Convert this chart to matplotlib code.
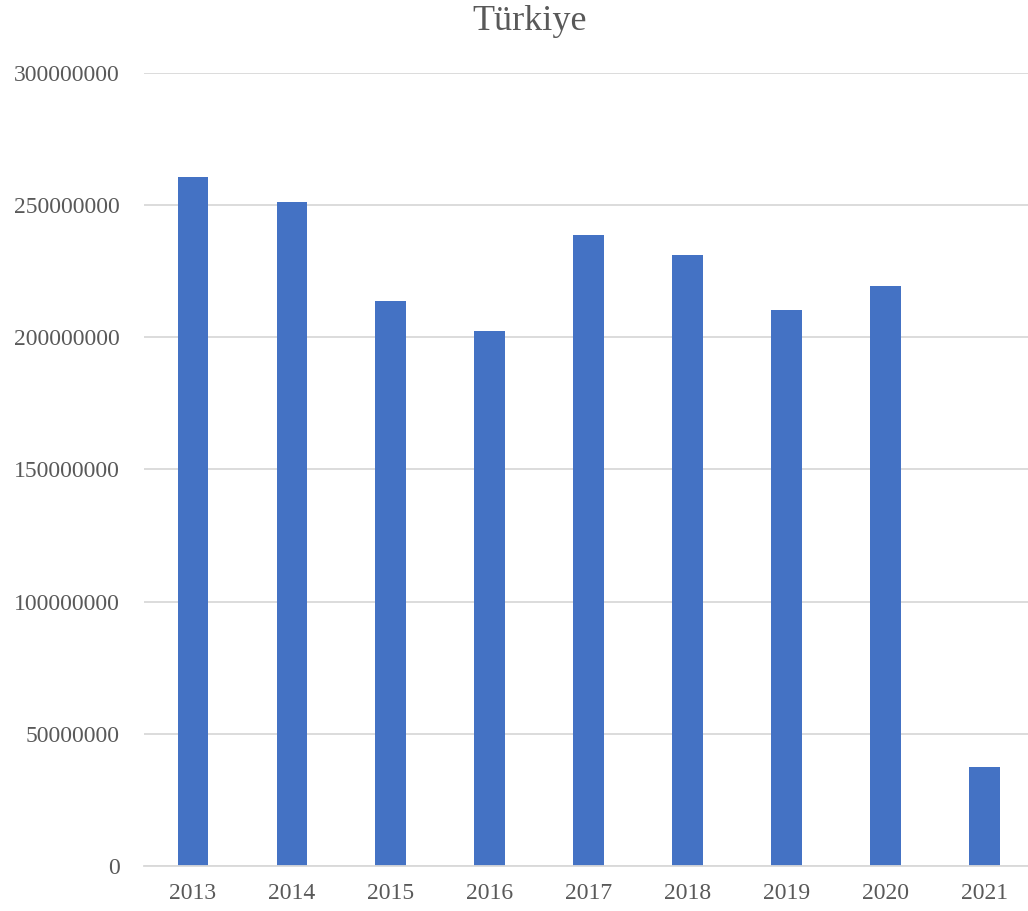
import matplotlib
matplotlib.use("Agg")
import matplotlib.pyplot as plt
from matplotlib.ticker import FixedLocator, FuncFormatter

years = ["2013", "2014", "2015", "2016", "2017", "2018", "2019", "2020", "2021"]
values = [260700000, 251200000, 213700000, 202300000, 238700000, 231200000, 210400000, 219400000, 37500000]
yticks = [0, 50000000, 100000000, 150000000, 200000000, 250000000, 300000000]

plt.rcParams['font.family'] = ['Liberation Serif', 'DejaVu Serif']

fig = plt.figure(figsize=(10.28, 9.11), dpi=100)
ax = fig.add_axes([143.5 / 1028, 45 / 911, 890.3 / 1028, 793 / 911])

x = list(range(len(years)))
ax.bar(x, values, width=0.31, color="#4472C4", zorder=3)

ax.set_xlim(-0.5, len(years) - 0.5)
ax.set_ylim(0, 300000000)
ax.yaxis.set_major_locator(FixedLocator(yticks))
ax.yaxis.set_major_formatter(FuncFormatter(lambda v, p: f"{int(v)}"))
ax.set_xticks(x)
ax.set_xticklabels(years)

ax.grid(axis="y", color="#D9D9D9", linewidth=1.3, zorder=0)
for s in ["top", "right", "left"]:
    ax.spines[s].set_visible(False)
ax.spines["bottom"].set_color("#D9D9D9")
ax.spines["bottom"].set_linewidth(1.3)
ax.spines["bottom"].set_zorder(4)

ax.tick_params(axis="both", length=0, labelsize=17, colors="#595959")
ax.tick_params(axis="y", pad=17)
ax.tick_params(axis="x", pad=12)

fig.text(0.515, 1 - 22 / 911, "Türkiye", ha="center", va="center", fontsize=26, color="#595959")

fig.savefig("out.png", dpi=100)
